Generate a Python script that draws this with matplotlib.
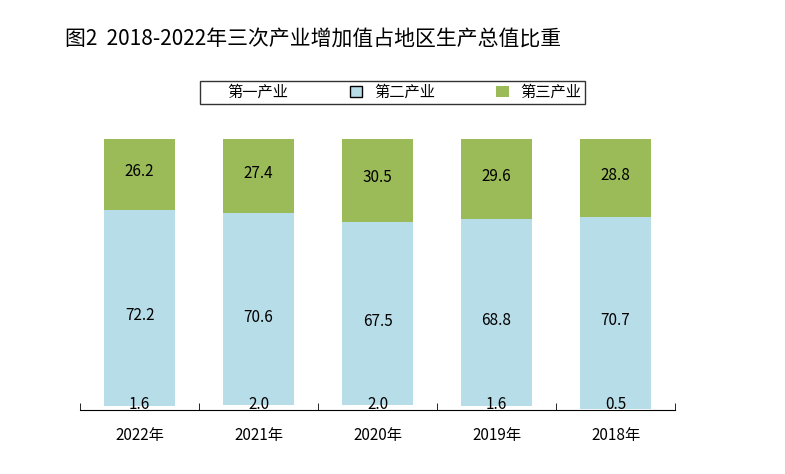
import matplotlib
matplotlib.use('Agg')
import matplotlib.pyplot as plt
import numpy as np
from matplotlib.patches import Patch

plt.rcParams['font.family'] = ['Noto Sans CJK SC', 'DejaVu Sans']

years = ['2022年', '2021年', '2020年', '2019年', '2018年']
primary = [1.6, 2.0, 2.0, 1.6, 0.5]
secondary = [72.2, 70.6, 67.5, 68.8, 70.7]
tertiary = [26.2, 27.4, 30.5, 29.6, 28.8]

fig = plt.figure(figsize=(7.85, 4.74), dpi=100)
ax = fig.add_axes([0.102, 0.135, 0.758, 0.572])
x = np.arange(len(years))
w = 0.59
p = np.array(primary)
s = np.array(secondary)
t = np.array(tertiary)
ax.bar(x, p, w, color='white', edgecolor='none')
ax.bar(x, s, w, bottom=p, color='#b7dde8')
ax.bar(x, t, w, bottom=p + s, color='#9bbb59')

for i in range(len(x)):
    ax.text(x[i], 2.0, f'{primary[i]:.1f}', ha='center', va='center', fontsize=11)
    ax.text(x[i], p[i] + s[i] / 2 - 3, f'{secondary[i]:.1f}', ha='center', va='center', fontsize=11)
    ax.text(x[i], p[i] + s[i] + t[i] / 2 + 1, f'{tertiary[i]:.1f}', ha='center', va='center', fontsize=11)

ax.set_xlim(-0.5, len(years) - 0.5)
ax.set_ylim(0, 100)
ax.set_yticks([])
for sp in ['left', 'right', 'top']:
    ax.spines[sp].set_visible(False)
ax.set_xticks(x)
ax.set_xticklabels(years, fontsize=11)
ax.tick_params(axis='x', length=0, pad=12)
ax.set_xticks(np.arange(-0.5, len(years)), minor=True)
ax.tick_params(axis='x', which='minor', length=5, direction='in')

fig.text(0.083, 0.905, '图2  2018-2022年三次产业增加值占地区生产总值比重', fontsize=15)
handles = [Patch(facecolor='white', edgecolor='none', label='第一产业'),
           Patch(facecolor='#b7dde8', edgecolor='black', label='第二产业'),
           Patch(facecolor='#9bbb59', edgecolor='none', label='第三产业')]
fig.legend(handles=handles, loc='center', bbox_to_anchor=(0.5, 0.805), ncol=3,
           frameon=True, fancybox=False, edgecolor='black', fontsize=11,
           handlelength=0.8, handleheight=0.8, columnspacing=4, borderpad=0.2)

fig.savefig('out.png', dpi=100)
